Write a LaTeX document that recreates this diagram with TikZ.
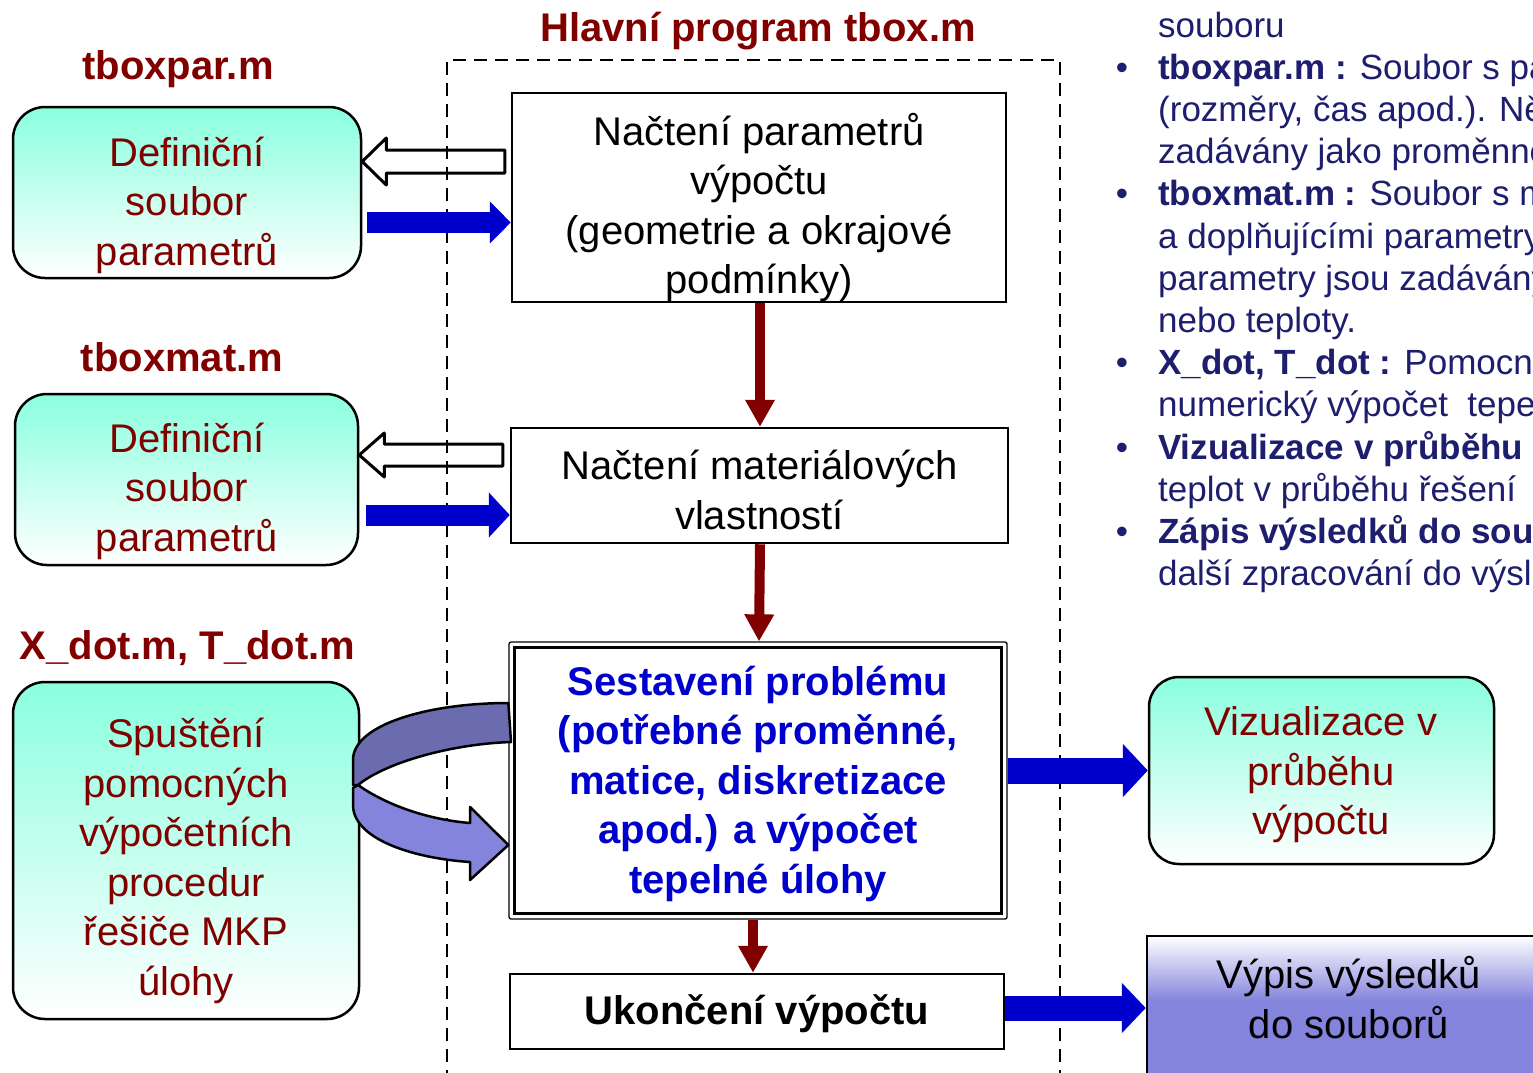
\documentclass[tikz,border=0pt]{standalone}
\usepackage{fontspec}
\setmainfont{Liberation Sans}
\usetikzlibrary{arrows.meta,calc}
\definecolor{dred}{RGB}{128,0,0}
\definecolor{aqua}{RGB}{138,255,222}
\definecolor{bblue}{RGB}{0,0,204}
\definecolor{txtnavy}{RGB}{30,30,110}
\definecolor{lav}{RGB}{132,132,221}
\definecolor{lavdark}{RGB}{107,107,175}
\pgfdeclareverticalshading{lavfade}{100bp}{color(0bp)=(lav); color(25bp)=(lav); color(54bp)=(lav); color(75bp)=(white); color(100bp)=(white)}
\begin{document}
\begin{tikzpicture}[x=1pt,y=-1pt,
  big/.style={font=\fontsize{40}{49.5}\selectfont, align=center, inner sep=0pt},
  bigbold/.style={font=\fontsize{40}{49.5}\selectfont\bfseries, align=center, inner sep=0pt},
  lbl/.style={font=\fontsize{40}{48}\selectfont\bfseries, text=dred, inner sep=0pt, anchor=base},
  box/.style={draw, line width=2.5pt, fill=white, inner sep=0pt},
  aquabox/.style={draw, line width=2.5pt, rounded corners=32pt, top color=aqua, bottom color=white, inner sep=0pt},
  hollowarrow/.style={draw, line width=3pt, line join=round},
  bluearrow/.style={draw=bblue, line width=#1},
  redarrow/.style={draw=dred, line width=10pt, -{Triangle[length=27pt, width=28pt]}},
  rtxt/.style={font=\fontsize{35}{42}\selectfont, text=txtnavy, anchor=base west, inner sep=0pt},
  bul/.style={font=\fontsize{35}{42}\selectfont, text=txtnavy, anchor=base, inner sep=0pt},
  ribbon/.style={draw, line width=2.5pt, line join=round}
]
\path[use as bounding box] (0,0) rectangle (1533,1072);
\clip (0,0) rectangle (1533,1072);

% dashed main program frame
\node[draw, line width=2.6pt, dash pattern=on 13pt off 8pt, minimum width=613pt, minimum height=1040pt, inner sep=0pt] (main) at (753.5,580) {};

% titles / labels
\node[lbl] (title) at (758,41) {Hlavní program tbox.m};
\node[lbl] (lpar) at (178,79) {tboxpar.m};
\node[lbl] (lmat) at (182,371) {tboxmat.m};
\node[lbl] (ldot) at (187.5,659) {X\_dot.m, T\_dot.m};

% left aqua boxes
\node[aquabox, minimum width=348pt, minimum height=171pt] (L1) at (187,192.5) {};
\node[aquabox, minimum width=343pt, minimum height=171pt] (L2) at (186.5,479.5) {};
\node[aquabox, minimum width=346pt, minimum height=337pt] (L3) at (186,850.5) {};
\node[big, text=dred] (L1t) at (187,205) {Definiční\\soubor\\parametrů};
\node[big, text=dred] (L2t) at (187,491) {Definiční\\soubor\\parametrů};
\node[big, text=dred] (L3t) at (186,861) {Spuštění\\pomocných\\výpočetních\\procedur\\řešiče MKP\\úlohy};

% middle boxes
\node[box, minimum width=494pt, minimum height=209pt] (B1) at (759,197.5) {};
\node[big] (B1t) at (759,207.5) {Načtení parametrů\\výpočtu\\(geometrie a okrajové\\podmínky)};
\node[box, minimum width=497pt, minimum height=115pt] (B2) at (759.5,485.5) {};
\node[big] (B2t) at (759.5,490) {Načtení materiálových\\vlastností};
\node[draw, line width=1.3pt, fill=white, rounded corners=2pt, minimum width=498pt, minimum height=277pt, inner sep=0pt] (B3) at (758,780.5) {};
\node[draw, line width=2.8pt, minimum width=487pt, minimum height=266pt, inner sep=0pt] (B3i) at (B3.center) {};
\node[bigbold, text=bblue] (B3t) at (758,783.5) {Sestavení problému\\(potřebné proměnné,\\matice, diskretizace\\apod.) a výpočet\\tepelné úlohy};
\node[box, minimum width=494pt, minimum height=75pt] (B4) at (757,1011.5) {};
\node[bigbold] (B4t) at (757,1014) {Ukončení výpočtu};

% right boxes
\node[aquabox, rounded corners=30pt, minimum width=345pt, minimum height=187pt] (R1) at (1321.5,770.5) {};
\node[big, text=dred] (R1t) at (1321,775) {Vizualizace v\\průběhu\\výpočtu};
\node[draw, line width=2.5pt, shade, shading=lavfade, minimum width=413pt, minimum height=154pt, inner sep=0pt] (R2) at (1353.5,1013) {};
\node[big] (R2t) at (1349,997.5) {Výpis výsledků\\do souborů};

% hollow arrows (back to definition files)
\coordinate (h1s) at (B1.west |- 0,161.5);
\coordinate (h1t) at (L1.east |- 0,161.5);
\draw[hollowarrow] (h1t) -- ($(h1t)+(24,-23.5)$) -- ($(h1t)+(24,-11.5)$) -- ($(h1s)+(-6,-11.5)$) -- ($(h1s)+(-6,11.5)$) -- ($(h1t)+(24,11.5)$) -- ($(h1t)+(24,23.5)$) -- cycle;
\coordinate (h2s) at (B2.west |- 0,455);
\coordinate (h2t) at (L2.east |- 0,455);
\draw[hollowarrow] (h2t) -- ($(h2t)+(25,-22)$) -- ($(h2t)+(25,-11)$) -- ($(h2s)+(-7,-11)$) -- ($(h2s)+(-7,11)$) -- ($(h2t)+(25,11)$) -- ($(h2t)+(25,22)$) -- cycle;

% blue arrows into the program
\draw[bluearrow=21pt, -{Triangle[length=21pt, width=41pt]}] ($(L1.east |- 0,222.5)+(5,0)$) -- (B1.west |- 0,222.5);
\draw[bluearrow=21pt, -{Triangle[length=21pt, width=44pt]}] ($(L2.east |- 0,515)+(7,0)$) -- (B2.west |- 0,515);

% red flow arrows
\draw[redarrow] (B1.south -| 760,0) -- (B2.north -| 760,0);
\draw[redarrow] (B2.south -| 760,0) -- (B3.north -| 759,0);
\draw[redarrow] (B3.south -| 753,0) -- (B4.north -| 753,0);

% blue output arrows
\draw[bluearrow=26pt, -{Triangle[length=25pt, width=52pt]}] (B3.east |- 0,770.5) -- (R1.west);
\draw[bluearrow=25pt, -{Triangle[length=24pt, width=49pt]}] (B4.east |- 0,1008) -- (R2.west |- 0,1008);

% curved ribbon arrow (call of helper procedures)
\coordinate (cvs) at (B3.west |- 0,703);
\coordinate (cvt) at (B3.west |- 0,845);
\draw[ribbon, fill=lavdark] (cvs) .. controls (430,703) and (353,724) .. (353,760) -- (353,785) -- (358,785) .. controls (385,763) and (450,744) .. (511,742) -- cycle;
\draw[ribbon, fill=lav] (358,785) .. controls (382,802) and (422,819) .. (470,823) -- (470,807) -- (cvt) -- (470,880) -- (470,862) .. controls (410,858) and (353,838) .. (353,805) -- (353,788) -- cycle;

% right-hand bullet text
\node[rtxt] (r1) at (1158,37) {souboru};
\node[bul] (b1) at (1122,79.2) {•};
\node[rtxt] (r2) at (1158,79.2) {\textbf{tboxpar.m :} Soubor s pa};
\node[rtxt] (r3) at (1158,121.4) {(rozměry, čas apod.). Ně};
\node[rtxt] (r4) at (1158,163.6) {zadávány jako proměnné};
\node[bul] (b2) at (1122,205.8) {•};
\node[rtxt] (r5) at (1158,205.8) {\textbf{tboxmat.m :} Soubor s m};
\node[rtxt] (r6) at (1158,248) {a doplňujícími parametry};
\node[rtxt] (r7) at (1158,290.2) {parametry jsou zadávány};
\node[rtxt] (r8) at (1158,332.4) {nebo teploty.};
\node[bul] (b3) at (1122,374.6) {•};
\node[rtxt] (r9) at (1158,374.6) {\textbf{X\_dot, T\_dot :} Pomocn};
\node[rtxt] (r10) at (1158,416.8) {numerický výpočet\ \ tepe};
\node[bul] (b4) at (1122,459) {•};
\node[rtxt] (r11) at (1158,459) {\textbf{Vizualizace v průběhu}};
\node[rtxt] (r12) at (1158,501.2) {teplot v průběhu řešení};
\node[bul] (b5) at (1122,543.4) {•};
\node[rtxt] (r13) at (1158,543.4) {\textbf{Zápis výsledků do sou}};
\node[rtxt] (r14) at (1158,585.6) {další zpracování do výsl};
\end{tikzpicture}
\end{document}
